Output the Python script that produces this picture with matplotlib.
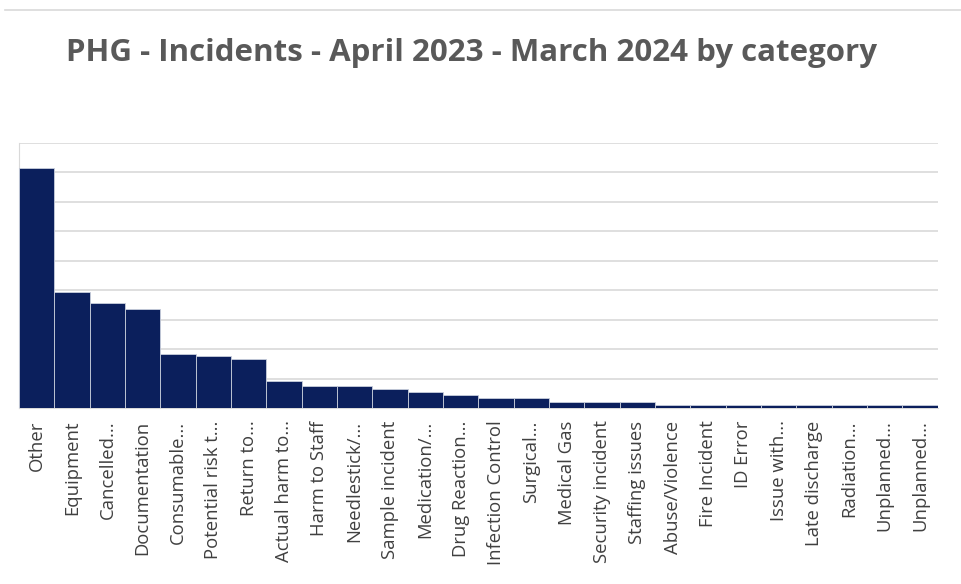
import matplotlib
matplotlib.use('Agg')
import matplotlib.pyplot as plt
from matplotlib.lines import Line2D
import numpy as np

categories = ['Other', 'Equipment', 'Cancelled...', 'Documentation', 'Consumable...',
              'Potential risk t...', 'Return to...', 'Actual harm to...', 'Harm to Staff',
              'Needlestick/...', 'Sample incident', 'Medication/...', 'Drug Reaction...',
              'Infection Control', 'Surgical...', 'Medical Gas', 'Security incident',
              'Staffing issues', 'Abuse/Violence', 'Fire Incident', 'ID Error',
              'Issue with...', 'Late discharge', 'Radiation...', 'Unplanned...', 'Unplanned...']
counts = [163, 79, 71, 67, 37, 35, 33, 18, 15, 15, 13, 11, 9, 7, 7, 4, 4, 4,
          2, 2, 2, 2, 2, 2, 2, 2]

plt.rcParams['font.family'] = ['Open Sans', 'DejaVu Sans']

fig = plt.figure(figsize=(9.62, 5.84), dpi=100)
ax = fig.add_axes([0.0198, 0.3014, 0.955, 0.4538])

x = np.arange(len(categories))
ax.bar(x, counts, width=1.0, color='#0b1f5c', edgecolor='#c9cfdc', linewidth=0.6, zorder=3)

ax.set_xlim(-0.5, len(categories) - 0.5)
ax.set_ylim(0, 180)
ax.set_yticks(np.arange(0, 181, 20))
ax.yaxis.grid(True, color='#d9d9d9', linewidth=1.2, zorder=0)
ax.tick_params(axis='y', left=False, labelleft=False)
ax.set_xticks(x)
ax.set_xticklabels(categories, rotation=90, fontsize=13.3, color='#404040')
ax.tick_params(axis='x', length=0, pad=9)

for s in ['top', 'right']:
    ax.spines[s].set_visible(False)
ax.spines['left'].set_color('#d9d9d9')
ax.spines['bottom'].set_color('#d9d9d9')

fig.text(0.490, 0.91, 'PHG - Incidents - April 2023 - March 2024 by category',
         ha='center', va='center', fontsize=22.5, fontweight='bold', color='#595959')

fig.add_artist(Line2D([0.005, 1.0], [0.983, 0.983], color='#d9d9d9', linewidth=1.2))

fig.savefig('out.png', dpi=100, facecolor='white')
